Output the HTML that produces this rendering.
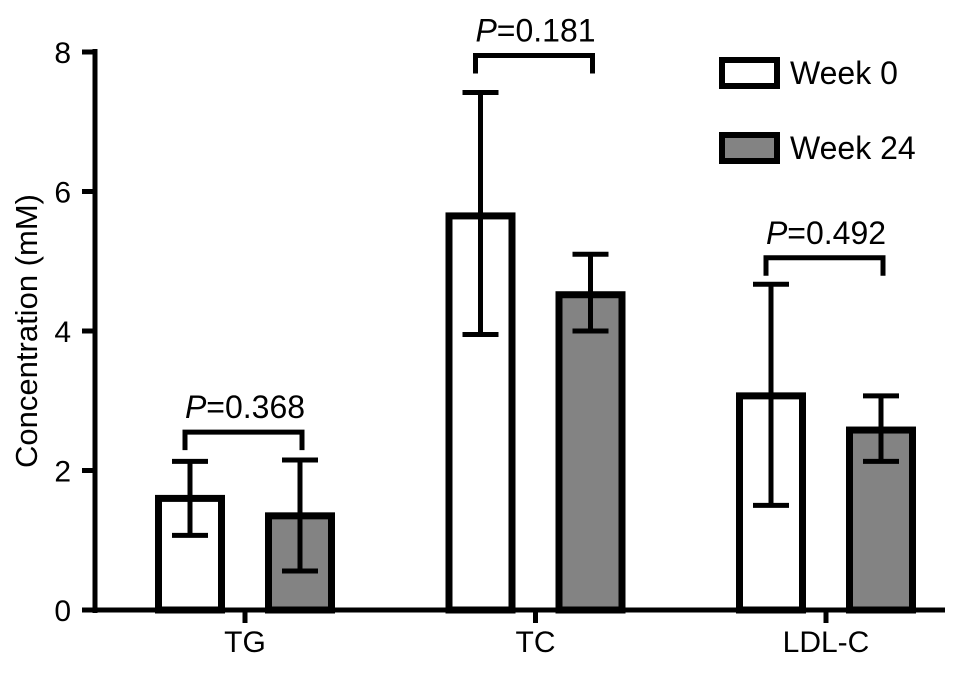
<!DOCTYPE html>
<html><head><meta charset="utf-8"><style>
body{margin:0;background:#fff}
svg text{font-family:"Liberation Sans",Arial,sans-serif;fill:#000}
</style></head><body>
<svg id="c" width="969" height="687" viewBox="0 0 969 687"></svg>
<script>
const categories=["TG","TC","LDL-C"];
const week0=[1.6,5.65,3.07];
const week0Lo=[1.07,3.95,1.5];
const week0Hi=[2.13,7.42,4.67];
const week24=[1.35,4.52,2.58];
const week24Lo=[0.56,4.0,2.13];
const week24Hi=[2.15,5.1,3.07];
const pLabels=["0.368","0.181","0.492"];
const bracketY=[2.55,7.95,5.05];
const yTicks=[0,2,4,6,8];
const NS="http://www.w3.org/2000/svg";
const svg=document.getElementById('c');
const y=v=>610-v*69.75;
const xc=i=>245+i*290.5;
function mk(t,a,p){const e=document.createElementNS(NS,t);for(const k in a)e.setAttribute(k,a[k]);(p||svg).appendChild(e);return e;}
let e=mk('line',{x1:95,y1:49,x2:95,y2:613,stroke:'#000','stroke-width':5});


e=mk('line',{x1:93,y1:610,x2:945,y2:610,stroke:'#000','stroke-width':5});


yTicks.forEach(t=>{
  e=mk('line',{x1:82,y1:y(t),x2:95,y2:y(t),stroke:'#000','stroke-width':5});
  
  
  e=mk('text',{x:71,y:y(t)+11,'text-anchor':'end','font-size':30});e.textContent=t;
  
  
});
e=mk('text',{x:0,y:0,'text-anchor':'middle','font-size':31,transform:'translate(37,331) rotate(-90)'});e.textContent='Concentration (mM)';


function bar(cx,v,lo,hi,fill,name){
  let r=mk('rect',{x:cx-31.5,y:y(v),width:63,height:610-y(v),fill:fill,stroke:'#000','stroke-width':7});
  
  
  let g=mk('g',{stroke:'#000','stroke-width':5});
  
  
  mk('line',{x1:cx,y1:y(lo),x2:cx,y2:y(hi)},g);
  mk('line',{x1:cx-18,y1:y(lo),x2:cx+18,y2:y(lo)},g);
  mk('line',{x1:cx-18,y1:y(hi),x2:cx+18,y2:y(hi)},g);
}
categories.forEach((c,i)=>{
  const cx=xc(i);
  e=mk('line',{x1:cx,y1:610,x2:cx,y2:623,stroke:'#000','stroke-width':5});
  
  
  bar(cx-55,week0[i],week0Lo[i],week0Hi[i],'#fff','bar-week0-'+c.toLowerCase());
  bar(cx+55,week24[i],week24Lo[i],week24Hi[i],'#838383','bar-week24-'+c.toLowerCase());
  e=mk('text',{x:cx,y:652,'text-anchor':'middle','font-size':30});e.textContent=c;
  
  
  const by=y(bracketY[i]);
  e=mk('path',{d:`M${cx-60},${by+18}V${by}H${cx+57}V${by+18}`,fill:'none',stroke:'#000','stroke-width':5});
  
  
  e=mk('text',{x:cx,y:by-14,'text-anchor':'middle','font-size':32});
  e.innerHTML='<tspan font-style="italic">P</tspan>='+pLabels[i];
  
  
});
[['Week 0','#fff',73],['Week 24','#838383',148]].forEach(([t,f,ly])=>{
  let g=mk('g',{});
  
  
  mk('rect',{x:722,y:ly-13,width:55,height:26,fill:f,stroke:'#000','stroke-width':6},g);
  let tx=mk('text',{x:790,y:ly+11,'font-size':32},g);tx.textContent=t;
});
</script>
</body></html>
